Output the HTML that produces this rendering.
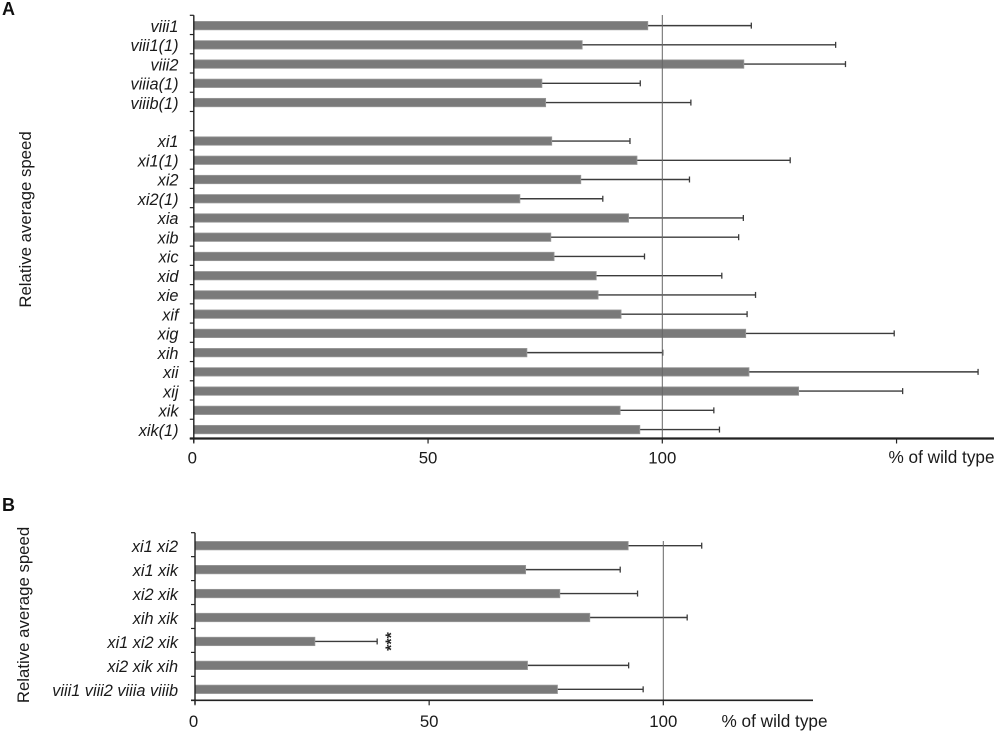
<!DOCTYPE html>
<html lang="en">
<head>
<meta charset="utf-8">
<title>Relative average speed of myosin mutants</title>
<style>
html,body{margin:0;padding:0;background:#fff;width:1000px;height:735px;overflow:hidden}
svg{display:block;font-family:"Liberation Sans",sans-serif}
</style>
</head>
<body>
<svg id="figure" width="1000" height="735" viewBox="0 0 1000 735" xmlns="http://www.w3.org/2000/svg">
  <rect width="1000" height="735" fill="#ffffff"/>
  <text x="2" y="15" font-size="18" font-weight="bold" fill="#111">A</text>
  <text x="2" y="511" font-size="18" font-weight="bold" fill="#111">B</text>
  <text transform="translate(31,219.5) rotate(-90)" text-anchor="middle" font-size="16.8" fill="#1a1a1a">Relative average speed</text>
  <text transform="translate(29,615) rotate(-90)" text-anchor="middle" font-size="16.8" fill="#1a1a1a">Relative average speed</text>
  <text x="888.5" y="463" font-size="17.2" fill="#1a1a1a">% of wild type</text>
  <text x="721.5" y="727" font-size="17.2" fill="#1a1a1a">% of wild type</text>
  <g id="panel-a"></g>
  <g id="panel-b"></g>
  <text transform="translate(386,641.5) rotate(-90)" text-anchor="middle" font-size="16" font-weight="bold" dominant-baseline="hanging" fill="#222">***</text>
</svg>
<script>
var xTickLabelsA = [0, 50, 100];
var xMinorTicksA = [0, 50, 100, 150];
var referenceValue = 100;

var categoriesA = ["viii1", "viii1(1)", "viii2", "viiia(1)", "viiib(1)", "", "xi1", "xi1(1)", "xi2", "xi2(1)", "xia", "xib", "xic", "xid", "xie", "xif", "xig", "xih", "xii", "xij", "xik", "xik(1)"];
var meansA = [96.9, 82.9, 117.4, 74.3, 75.1, null, 76.4, 94.6, 82.6, 69.6, 92.8, 76.2, 76.9, 85.9, 86.3, 91.2, 117.8, 71.1, 118.5, 129.1, 91.0, 95.2];
var errorEndsA = [119.0, 137.0, 139.1, 95.3, 106.1, null, 93.1, 127.3, 105.8, 87.3, 117.3, 116.3, 96.2, 112.7, 119.9, 118.1, 149.5, 100.1, 167.4, 151.3, 111.0, 112.2];

var categoriesB = ["xi1 xi2", "xi1 xik", "xi2 xik", "xih xik", "xi1 xi2 xik", "xi2 xik xih", "viii1 viii2 viiia viiib"];
var meansB = [92.5, 70.6, 77.9, 84.3, 25.6, 71.0, 77.4];
var errorEndsB = [108.2, 90.8, 94.5, 105.1, 38.9, 92.6, 95.7];
var xTicksB = [0, 50, 100];

var SVGNS = "http://www.w3.org/2000/svg";

function shape(parent, tag, props, text) {
  var el = document.createElementNS(SVGNS, tag);
  for (var k in props) { el.setAttribute(k, props[k]); }
  if (text !== undefined) { el.textContent = text; }
  parent.appendChild(el);
  return el;
}

function slug(s) {
  return s.replace(/[^a-z0-9]+/gi, "-").replace(/^-|-$/g, "").toLowerCase();
}

function drawPanel(cfg) {
  var g = document.getElementById(cfg.id);
  var xScale = function (v) { return cfg.x0 + v * cfg.pxPerUnit; };
  var step = (cfg.yBottom - cfg.yTop) / cfg.categories.length;
  var yBand = function (i) { return cfg.yTop + step * i; };

  cfg.categories.forEach(function (cat, i) {
    var cy = yBand(i) + step / 2 + cfg.barOffset;
    if (cfg.means[i] === null) { return; }
    var end = xScale(cfg.means[i]);
    var errEnd = xScale(cfg.errorEnds[i]);

    var err = shape(g, "line", {x1: end, x2: errEnd, y1: cy, y2: cy, stroke: "#3c3c3c", "stroke-width": 1.4});
    
    

    var cap = shape(g, "line", {x1: errEnd, x2: errEnd, y1: cy - 3, y2: cy + 3, stroke: "#3c3c3c", "stroke-width": 1.3});
    
    

    var bar = shape(g, "rect", {x: cfg.x0, y: cy - 4.2, width: end - cfg.x0, height: 8.4, fill: "#7a7a7a", stroke: "#989898", "stroke-width": 0.8});
    
    

    var label = shape(g, "text", {x: cfg.labelX, y: cy + cfg.labelDy, "text-anchor": "end", "font-size": cfg.labelSize, "font-style": "italic", fill: "#1a1a1a"}, cat);
    
    
  });

  var refLine = shape(g, "line", {x1: xScale(referenceValue), x2: xScale(referenceValue), y1: cfg.refTop, y2: cfg.yBottom, stroke: "#666", "stroke-width": 1});
  
  

  var yAxis = shape(g, "line", {x1: cfg.x0, x2: cfg.x0, y1: cfg.yTop, y2: cfg.yBottom + 4, stroke: "#222", "stroke-width": 1.4});
  
  

  for (var t = 0; t <= cfg.categories.length; t++) {
    var yTick = shape(g, "line", {x1: cfg.x0 - 4, x2: cfg.x0, y1: yBand(t), y2: yBand(t), stroke: "#222", "stroke-width": 1.2});
    
    
  }

  var xAxis = shape(g, "line", {x1: cfg.x0 - 4, x2: cfg.xEnd, y1: cfg.yBottom, y2: cfg.yBottom, stroke: "#222", "stroke-width": cfg.axisWidth});
  
  

  cfg.tickValues.forEach(function (v) {
    var xTick = shape(g, "line", {x1: xScale(v), x2: xScale(v), y1: cfg.yBottom, y2: cfg.yBottom + 5, stroke: "#222", "stroke-width": 1.2});
    
    
  });

  cfg.tickLabels.forEach(function (v) {
    var tickLabel = shape(g, "text", {x: xScale(v) - (v === 0 ? 1.5 : 0), y: cfg.tickBaseline, "text-anchor": "middle", "font-size": 16.8, fill: "#1a1a1a"}, String(v));
    
    
  });
}

drawPanel({
  id: "panel-a", categories: categoriesA, means: meansA, errorEnds: errorEndsA,
  x0: 193.8, pxPerUnit: 4.685, yTop: 15.3, yBottom: 438.5, xEnd: 994, barOffset: 0.7,
  labelX: 178.5, labelDy: 6.2, labelSize: 16.3, refTop: 15, axisWidth: 2.2,
  tickValues: xMinorTicksA, tickLabels: xTickLabelsA, tickBaseline: 463.5
});

drawPanel({
  id: "panel-b", categories: categoriesB, means: meansB, errorEnds: errorEndsB,
  x0: 195, pxPerUnit: 4.683, yTop: 532.7, yBottom: 700.3, xEnd: 813, barOffset: 1,
  labelX: 178, labelDy: 6.5, labelSize: 16.3, refTop: 541, axisWidth: 1.6,
  tickValues: xTicksB, tickLabels: xTicksB, tickBaseline: 727
});
</script>
</body>
</html>
